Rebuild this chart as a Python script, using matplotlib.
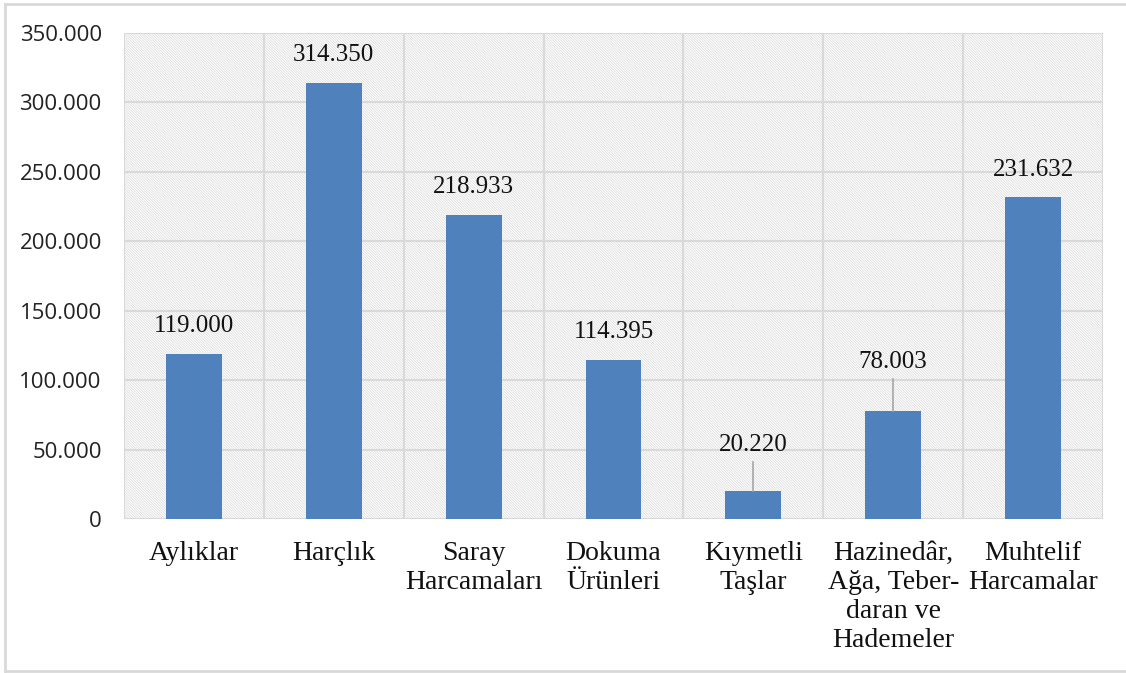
import matplotlib
matplotlib.use("Agg")
import matplotlib.pyplot as plt
from matplotlib.patches import Rectangle
from matplotlib.lines import Line2D

categories = ["Aylıklar", "Harçlık", "Saray\nHarcamaları", "Dokuma\nÜrünleri",
              "Kıymetli\nTaşlar", "Hazinedâr,\nAğa, Teber-\ndaran ve\nHademeler",
              "Muhtelif\nHarcamalar"]
values = [119000, 314350, 218933, 114395, 20220, 78003, 231632]
yticks = [0, 50000, 100000, 150000, 200000, 250000, 300000, 350000]


def fmt(v):
    return f"{v:,.0f}".replace(",", ".")


plt.rcParams["hatch.color"] = "#d8d8d8"
plt.rcParams["hatch.linewidth"] = 0.5

fig = plt.figure(figsize=(11.26, 6.73), dpi=100)
ax = fig.add_axes([124 / 1126, 1 - 519 / 673, (1103 - 124) / 1126, (519 - 33) / 673])

grid_c = "#d9d9d9"
ax.set_xlim(-0.5, len(categories) - 0.5)
ax.set_ylim(0, 350000)

# hatched background
ax.add_patch(Rectangle((0, 0), 1, 1, transform=ax.transAxes, facecolor="white",
                       edgecolor="#d8d8d8", linewidth=0, hatch="\\" * 13, zorder=0))

for yv in yticks:
    ax.axhline(yv, color=grid_c, lw=1.5, zorder=1)
for i in range(len(categories) + 1):
    ax.axvline(i - 0.5, color=grid_c, lw=1.5, zorder=1)

x = list(range(len(categories)))
ax.bar(x, values, width=0.4, color="#4f81bd", zorder=3)

lift = {4: 13000, 5: 15000}
serif = "Liberation Serif"
for i, v in enumerate(values):
    extra = lift.get(i, 0)
    ty = v + 20000 + extra
    ax.text(i, ty, fmt(v), ha="center", va="center", fontsize=18,
            family=serif, color="#111111", zorder=5)
    if extra:
        ax.plot([i, i], [v, ty - 12000], color="#a6a6a6", lw=1.2, zorder=4)

for s in ax.spines.values():
    s.set_visible(False)

ax.set_yticks(yticks)
ax.set_yticklabels([fmt(t) for t in yticks], family="Open Sans", fontsize=16,
                   color="#222222")
ax.set_xticks(x)
ax.set_xticklabels(categories, family=serif, fontsize=20, color="#111111",
                   linespacing=1.21, va="top")
ax.tick_params(axis="both", length=0)
ax.tick_params(axis="y", pad=16)
ax.tick_params(axis="x", pad=16)

# outer frame
fc = "#d9d9d9"
fig.add_artist(Line2D([5 / 1126, 5 / 1126], [1 - 4 / 673, 1 - 671 / 673], color=fc, lw=2,
                      transform=fig.transFigure))
fig.add_artist(Line2D([5 / 1126, 1], [1 - 4 / 673, 1 - 4 / 673], color=fc, lw=2,
                      transform=fig.transFigure))
fig.add_artist(Line2D([5 / 1126, 1], [1 - 671 / 673, 1 - 671 / 673], color=fc, lw=2,
                      transform=fig.transFigure))

fig.savefig("out.png", dpi=100)
